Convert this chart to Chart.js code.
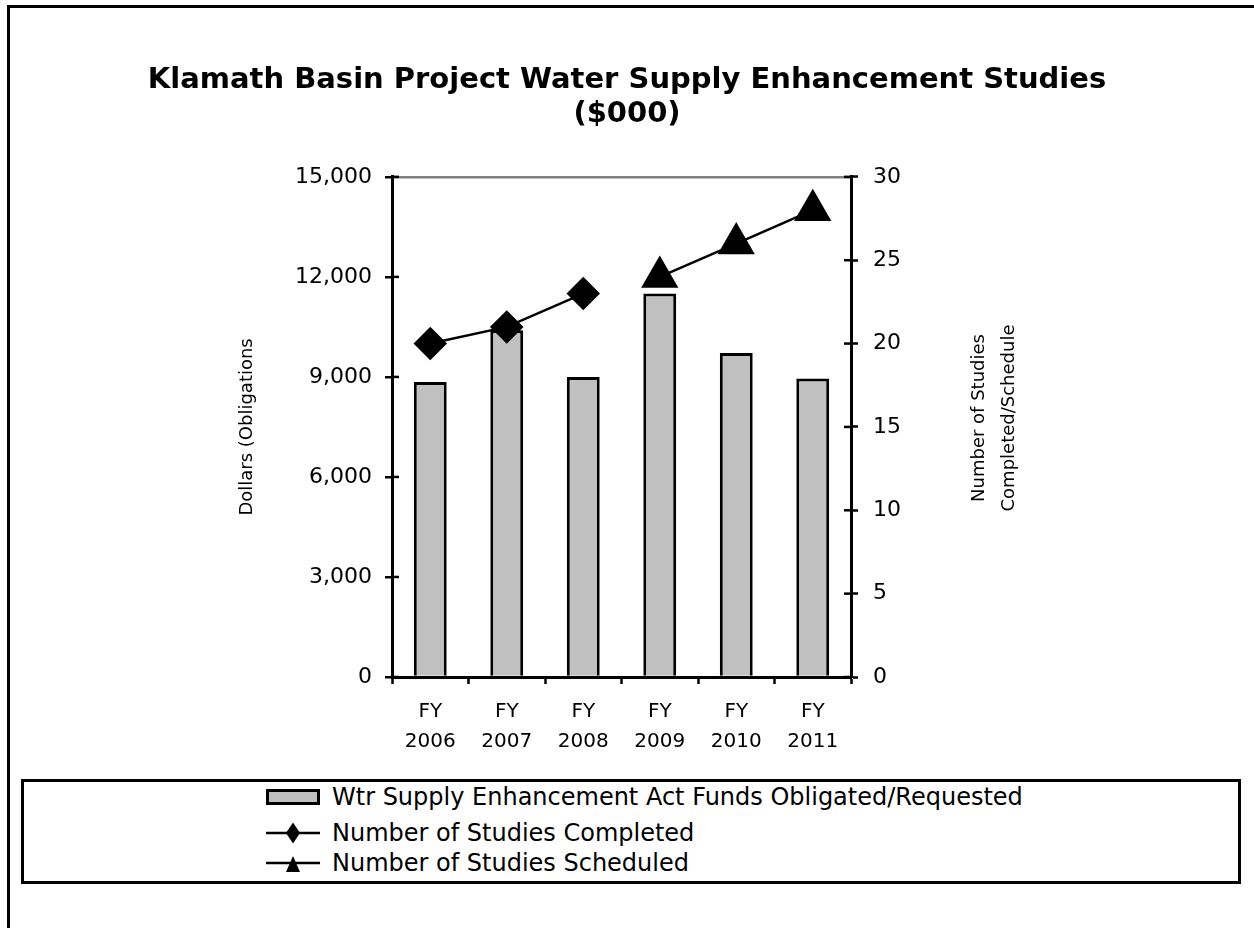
<!DOCTYPE html>
<html>
<head>
<meta charset="utf-8">
<title>Klamath Basin Project Water Supply Enhancement Studies</title>
<script src="https://cdn.jsdelivr.net/npm/chart.js@4.4.1/dist/chart.umd.min.js"></script>
<style>
    body { margin: 0; background: #fff; font-family: "DejaVu Sans", sans-serif; color: #000; }
    #wrap { position: relative; width: 1254px; height: 928px; overflow: hidden; background: #fff; }
    #frame { position: absolute; left: 7px; top: 5px; width: 1400px; height: 1100px; border: 3px solid #000; }
    #chartBox { position: absolute; left: 0; top: 0; width: 1254px; height: 928px; }
    #rightTitle {
        position: absolute; left: 868px; top: 388px; width: 250px; height: 60px;
        transform: rotate(-90deg); transform-origin: 50% 50%;
        text-align: center; font-size: 18px; line-height: 30px; white-space: nowrap;
    }
    #legend {
        position: absolute; left: 21px; top: 779px; width: 1220px; height: 105px;
        box-sizing: border-box; border: 3px solid #000; background: #fff;
    }
    .legend-row { position: absolute; left: 242px; height: 30px; display: flex; align-items: center; font-size: 24px; white-space: nowrap; }
    .legend-row svg { margin-right: 12px; }
</style>
</head>
<body>
<div id="wrap">
    <div id="frame"></div>
    <div id="chartBox"><canvas id="studiesChart"></canvas></div>
    <div id="rightTitle">Number of Studies<br>Completed/Schedule</div>
    <div id="legend"></div>
</div>
<script>
// data
const fiscalYears = ['2006', '2007', '2008', '2009', '2010', '2011'];
const fundsObligated = [8850, 10400, 9000, 11500, 9720, 8950];
const studiesCompleted = [20, 21, 23, null, null, null];
const studiesScheduled = [null, null, null, 24, 26, 28];
const seriesNames = [
    'Wtr Supply Enhancement Act Funds Obligated/Requested',
    'Number of Studies Completed',
    'Number of Studies Scheduled'
];
const chartTitle = ['Klamath Basin Project Water Supply Enhancement Studies', '($000)'];
const leftAxisTitle = 'Dollars (Obligations';

Chart.defaults.font.family = '"DejaVu Sans", sans-serif';
Chart.defaults.color = '#000';

// short tick marks on the inner side of both value axes
const innerTicks = {
    id: 'innerTicks',
    afterDraw(chart) {
        const ctx = chart.ctx;
        ctx.save();
        ctx.strokeStyle = '#000';
        ctx.lineWidth = 2.5;
        ['y', 'y1'].forEach(id => {
            const scale = chart.scales[id];
            const x = id === 'y' ? scale.right : scale.left;
            const dir = id === 'y' ? 1 : -1;
            scale.ticks.forEach(t => {
                const py = scale.getPixelForValue(t.value);
                ctx.beginPath();
                ctx.moveTo(x, py);
                ctx.lineTo(x + dir * 7, py);
                ctx.stroke();
            });
        });
        ctx.restore();
    }
};

const labels = fiscalYears.map(y => ['FY', y]);

const studiesChart = new Chart(document.getElementById('studiesChart'), {
    type: 'bar',
    data: {
        labels: labels,
        datasets: [
            {
                type: 'line',
                label: seriesNames[1],
                data: studiesCompleted,
                yAxisID: 'y1',
                borderColor: '#000',
                borderWidth: 2.5,
                pointStyle: 'rectRot',
                pointRadius: 15,
                pointBackgroundColor: '#000',
                pointBorderColor: '#000',
                spanGaps: false,
                order: 0
            },
            {
                type: 'line',
                label: seriesNames[2],
                data: studiesScheduled,
                yAxisID: 'y1',
                borderColor: '#000',
                borderWidth: 2.5,
                pointStyle: 'triangle',
                pointRadius: 19,
                pointBackgroundColor: '#000',
                pointBorderColor: '#000',
                spanGaps: false,
                order: 0
            },
            {
                label: seriesNames[0],
                data: fundsObligated,
                yAxisID: 'y',
                backgroundColor: '#c0c0c0',
                borderColor: '#000',
                borderWidth: 3,
                barPercentage: 0.43,
                categoryPercentage: 1,
                order: 1
            }
        ]
    },
    options: {
        responsive: true,
        maintainAspectRatio: false,
        animation: false,
        layout: { padding: { left: 0, right: 0, top: 0, bottom: 151 } },
        plugins: {
            legend: { display: false },
            tooltip: { enabled: false },
            title: {
                display: true,
                text: chartTitle,
                color: '#000',
                font: { size: 29, weight: 'bold', lineHeight: 1.17 },
                padding: { top: 64, bottom: 45 }
            }
        },
        scales: {
            x: {
                afterFit: scale => { scale.height = 100; },
                grid: { offset: true, drawOnChartArea: false, tickColor: '#000', tickLength: 7, tickWidth: 2.5 },
                border: { color: '#000', width: 3 },
                ticks: { font: { size: 20, lineHeight: 1.5 }, padding: 13, maxRotation: 0 }
            },
            y: {
                position: 'left',
                min: 0,
                max: 15000,
                afterFit: scale => { scale.width = 392; },
                ticks: { stepSize: 3000, font: { size: 22 }, padding: 13 },
                grid: {
                    color: c => (c.tick && c.tick.value === 15000) ? '#808080' : 'rgba(0,0,0,0)',
                    lineWidth: 2.5,
                    tickColor: '#000',
                    tickLength: 7,
                    tickWidth: 2.5
                },
                border: { color: '#000', width: 3 },
                title: {
                    display: true,
                    text: leftAxisTitle,
                    font: { size: 18, lineHeight: 1.2 },
                    padding: { top: 237, bottom: 0 }
                }
            },
            y1: {
                position: 'right',
                min: 0,
                max: 30,
                afterFit: scale => { scale.width = 403; },
                ticks: { stepSize: 5, font: { size: 22 }, padding: 15 },
                grid: { drawOnChartArea: false, tickColor: '#000', tickLength: 7, tickWidth: 2.5 },
                border: { color: '#000', width: 3 }
            }
        }
    },
    plugins: [innerTicks]
});

// legend box below the chart
const legendSymbols = [
    '<svg width="54" height="16"><rect x="1.5" y="1.5" width="51" height="13" fill="#c0c0c0" stroke="#000" stroke-width="3"/></svg>',
    '<svg width="54" height="22"><line x1="0" y1="11" x2="54" y2="11" stroke="#000" stroke-width="2.5"/><polygon points="27,0.5 34,11 27,21.5 20,11" fill="#000"/></svg>',
    '<svg width="54" height="22"><line x1="0" y1="11" x2="54" y2="11" stroke="#000" stroke-width="2.5"/><polygon points="27,4 34,20 20,20" fill="#000"/></svg>'
];
const legendTops = [0, 36, 66];
const legendEl = document.getElementById('legend');
seriesNames.forEach((name, i) => {
    const row = document.createElement('div');
    row.className = 'legend-row';
    row.style.top = legendTops[i] + 'px';
    row.innerHTML = legendSymbols[i] + '<span>' + name + '</span>';
    legendEl.appendChild(row);
});
</script>
</body>
</html>
